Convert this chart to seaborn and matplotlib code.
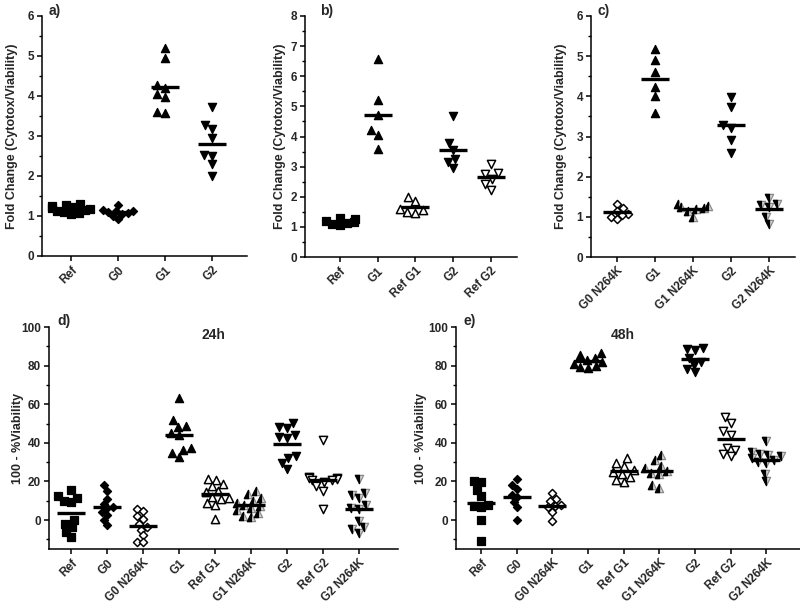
import numpy as np
import pandas as pd
import matplotlib
matplotlib.use("Agg")
import matplotlib.pyplot as plt
from matplotlib.path import Path
from matplotlib.collections import PathCollection
from matplotlib.ticker import MultipleLocator
import seaborn as sns

# ---------------- data ----------------
a_groups = ["Ref", "G0", "G1", "G2"]
a_ref = [1.30, 1.28, 1.25, 1.22, 1.20, 1.18, 1.15, 1.12, 1.10, 1.08, 1.05]
a_g0 = [1.27, 1.15, 1.13, 1.12, 1.10, 1.08, 1.05, 1.00, 0.93]
a_g1 = [5.20, 4.96, 4.27, 4.20, 4.04, 3.97, 3.59, 3.57]
a_g2 = [3.73, 3.27, 3.18, 2.95, 2.53, 2.51, 2.31, 1.99]

b_groups = ["Ref", "G1", "Ref G1", "G2", "Ref G2"]
b_ref = [1.30, 1.25, 1.20, 1.15, 1.12, 1.10, 1.05]
b_g1 = [6.58, 5.20, 4.72, 4.20, 4.04, 3.60]
b_ref_g1 = [1.99, 1.85, 1.60, 1.55, 1.50, 1.45]
b_g2 = [4.67, 3.78, 3.55, 3.26, 3.15, 2.96]
b_ref_g2 = [3.10, 2.78, 2.75, 2.60, 2.42, 2.22]

c_groups = ["G0 N264K", "G1", "G1 N264K", "G2", "G2 N264K"]
c_g0_n = [1.31, 1.22, 1.15, 1.08, 1.05, 1.00, 0.95]
c_g1 = [5.19, 4.91, 4.60, 4.22, 4.02, 3.59]
c_g1_n = [1.32, 1.28, 1.25, 1.22, 1.20, 1.15, 1.00]
c_g2 = [3.98, 3.73, 3.28, 3.21, 2.92, 2.59]
c_g2_n = [1.48, 1.33, 1.30, 1.25, 1.00, 0.82]

de_groups = ["Ref", "G0", "G0 N264K", "G1", "Ref G1", "G1 N264K", "G2", "Ref G2", "G2 N264K"]
d_ref = [15.5, 12.5, 11.5, 10.0, 9.5, 0.0, -2.0, -3.5, -6.0, -8.8]
d_g0 = [18.0, 15.3, 11.0, 8.5, 7.0, 6.0, 4.0, 2.5, 0.0, -2.5]
d_g0_n = [5.8, 4.5, 2.0, 0.5, -2.0, -3.5, -5.0, -8.0, -11.5, -11.5]
d_g1 = [63.2, 51.6, 48.9, 48.2, 45.0, 44.2, 37.3, 36.1, 34.7, 32.6]
d_ref_g1 = [21.5, 21.0, 18.5, 17.5, 15.0, 14.5, 12.0, 11.5, 11.0, 9.0, 8.0, 0.3]
d_g1_n = [15.0, 13.5, 11.5, 10.0, 9.0, 8.0, 7.5, 6.0, 5.0, 3.5, 2.0, 1.5]
d_g2 = [50.5, 48.0, 47.5, 44.0, 43.0, 42.5, 33.0, 32.0, 29.5, 26.5]
d_ref_g2 = [41.5, 22.5, 22.0, 22.0, 21.5, 21.0, 20.5, 19.5, 17.5, 15.0, 5.5]
d_g2_n = [21.4, 14.0, 13.1, 11.4, 7.9, 6.2, 5.7, -0.7, -3.6, -4.7, -6.7]

e_ref = [20.0, 19.5, 15.7, 12.6, 8.0, 7.5, 7.0, 0.0, -11.0]
e_g0 = [21.5, 18.0, 16.0, 13.0, 12.0, 9.5, 6.8, 0.0]
e_g0_n = [13.8, 10.8, 9.8, 8.0, 7.5, 6.5, 4.0, -0.5]
e_g1 = [86.5, 85.5, 84.0, 83.0, 82.0, 81.0, 80.0, 79.5, 79.0]
e_ref_g1 = [32.0, 29.5, 28.0, 26.0, 25.0, 24.0, 22.5, 21.0, 19.5]
e_g1_n = [33.8, 31.0, 28.0, 27.0, 25.5, 24.5, 24.0, 18.0, 16.5]
e_g2 = [89.0, 88.5, 88.0, 84.0, 82.0, 80.5, 78.0, 76.5]
e_ref_g2 = [53.5, 50.5, 46.0, 44.0, 37.5, 36.5, 34.0, 33.0]
e_g2_n = [41.0, 35.0, 34.0, 33.5, 33.0, 32.0, 31.0, 30.0, 29.5, 24.0, 20.0]

fold_label = "Fold Change (Cytotox/Viability)"
via_label = "100 - %Viability"

# ---------------- style ----------------
sns.set_theme(style="ticks")
plt.rcParams["font.family"] = ["Liberation Sans", "DejaVu Sans"]
plt.rcParams["font.weight"] = "bold"
plt.rcParams["axes.labelweight"] = "bold"

LEFT_UP = Path([(0, 1), (-1, -1), (0, -1), (0, 1)],
               [Path.MOVETO, Path.LINETO, Path.LINETO, Path.CLOSEPOLY])
LEFT_DOWN = Path([(0, -1), (-1, 1), (0, 1), (0, -1)],
                 [Path.MOVETO, Path.LINETO, Path.LINETO, Path.CLOSEPOLY])

STYLE = {
    "Ref": ("filled", "s", 1.0),
    "G0": ("filled", "D", 0.78),
    "G0 N264K": ("open", "D", 0.78),
    "G1": ("filled", "^", 1.12),
    "Ref G1": ("open", "^", 1.12),
    "G1 N264K": ("half", "^", 1.12),
    "G2": ("filled", "v", 1.12),
    "Ref G2": ("open", "v", 1.12),
    "G2 N264K": ("half", "v", 1.12),
}
SZ = 5.3
LW = 0.9
SHRINK = 0.8   # swarm is laid out with smaller markers so points overlap like the original


def panel(ax, groups, series, ylim, major, minor, xlim, ylabel, label_x):
    counts = [len(s) for s in series]
    df = pd.DataFrame({"group": np.repeat(groups, counts),
                       "value": np.concatenate(series)})
    for g in groups:
        sub = df[df["group"] == g]
        kind, mk, scl = STYLE[g]
        size = SZ * scl * SHRINK
        if kind == "filled":
            sns.swarmplot(data=sub, x="group", y="value", order=groups, marker=mk,
                          size=size, color="black", edgecolor="black",
                          linewidth=LW, ax=ax, zorder=3)
        elif kind == "open":
            sns.swarmplot(data=sub, x="group", y="value", order=groups, marker=mk,
                          size=size, color="white", edgecolor="black",
                          linewidth=LW * 1.2, ax=ax, zorder=3)
        else:
            sns.swarmplot(data=sub, x="group", y="value", order=groups, marker=mk,
                          size=size, color="#d6d6d6", edgecolor="#8a8a8a",
                          linewidth=LW, ax=ax, zorder=3)
            half = LEFT_UP if mk == "^" else LEFT_DOWN
            sns.swarmplot(data=sub, x="group", y="value", order=groups, marker=half,
                          size=size, color="black", edgecolor="black",
                          linewidth=LW, ax=ax, zorder=4)
    sns.pointplot(data=df, x="group", y="value", order=groups, estimator="mean",
                  errorbar=None, markers="_", linestyles="none", color="black",
                  markersize=20, markeredgewidth=2.4, ax=ax, zorder=5)
    ax.set_xlim(*xlim)
    ax.set_ylim(*ylim)
    ax.yaxis.set_major_locator(MultipleLocator(major))
    ax.yaxis.set_minor_locator(MultipleLocator(minor))
    ax.set_xlabel("")
    ax.set_ylabel(ylabel, fontsize=9, fontweight="bold")
    ax.yaxis.set_label_coords(label_x, 0.5)
    ax.tick_params(axis="both", which="major", length=3.8, width=1.1,
                   direction="out", labelsize=8.5, pad=2, color="black")
    ax.tick_params(axis="y", which="minor", length=2.3, width=1.0, color="black")
    ax.tick_params(axis="x", which="minor", length=0)
    for lab in ax.get_xticklabels():
        lab.set_rotation(45)
        lab.set_ha("right")
        lab.set_rotation_mode("anchor")
        lab.set_fontweight("bold")
    for lab in ax.get_yticklabels():
        lab.set_fontweight("bold")
    sns.despine(ax=ax)
    for sp in ("left", "bottom"):
        ax.spines[sp].set_linewidth(1.1)
        ax.spines[sp].set_color("black")
    ax.grid(False)


fig = plt.figure(figsize=(8, 6.08), dpi=100)
W, H = 800.0, 608.0


def axes_px(l, r, t, b):
    return fig.add_axes([l / W, 1 - b / H, (r - l) / W, (b - t) / H])


ax_a = axes_px(42, 247, 16, 256)
ax_b = axes_px(305, 517, 16, 257)
ax_c = axes_px(591, 795, 16, 257)
ax_d = axes_px(49, 398, 327, 549)
ax_e = axes_px(456, 800, 327, 549)

panel(ax_a, a_groups, [a_ref, a_g0, a_g1, a_g2], (0, 6), 1, 0.5,
      (-0.62, 3.74), fold_label, -0.117)
panel(ax_b, b_groups, [b_ref, b_g1, b_ref_g1, b_g2, b_ref_g2], (0, 8), 1, 0.5,
      (-0.92, 4.69), fold_label, -0.088)
panel(ax_c, c_groups, [c_g0_n, c_g1, c_g1_n, c_g2, c_g2_n], (0, 6), 1, 0.5,
      (-0.68, 4.68), fold_label, -0.118)
panel(ax_d, de_groups, [d_ref, d_g0, d_g0_n, d_g1, d_ref_g1, d_g1_n, d_g2, d_ref_g2, d_g2_n],
      (-15, 100), 20, 10, (-0.61, 9.08), via_label, -0.072)
panel(ax_e, de_groups, [e_ref, e_g0, e_g0_n, e_g1, e_ref_g1, e_g1_n, e_g2, e_ref_g2, e_g2_n],
      (-15, 100), 20, 10, (-0.70, 8.94), via_label, -0.084)

for txt, x, y in [("a)", 49, 11), ("b)", 320, 11), ("c)", 598, 11),
                  ("d)", 57, 321), ("e)", 463, 321)]:
    fig.text(x / W, 1 - y / H, txt, ha="left", va="center", fontsize=10,
             fontweight="bold")
for txt, x, y in [("24h", 213, 335), ("48h", 623, 335)]:
    fig.text(x / W, 1 - y / H, txt, ha="center", va="center", fontsize=10,
             fontweight="bold")

# lay out the swarms, then freeze positions and restore the full marker size
fig.canvas.draw()
for ax in (ax_a, ax_b, ax_c, ax_d, ax_e):
    for coll in ax.collections:
        if isinstance(coll, PathCollection):
            if "draw" in coll.__dict__:
                del coll.draw
            coll.set_sizes(np.asarray(coll.get_sizes()) / SHRINK ** 2)

fig.savefig("out.png", dpi=100)
